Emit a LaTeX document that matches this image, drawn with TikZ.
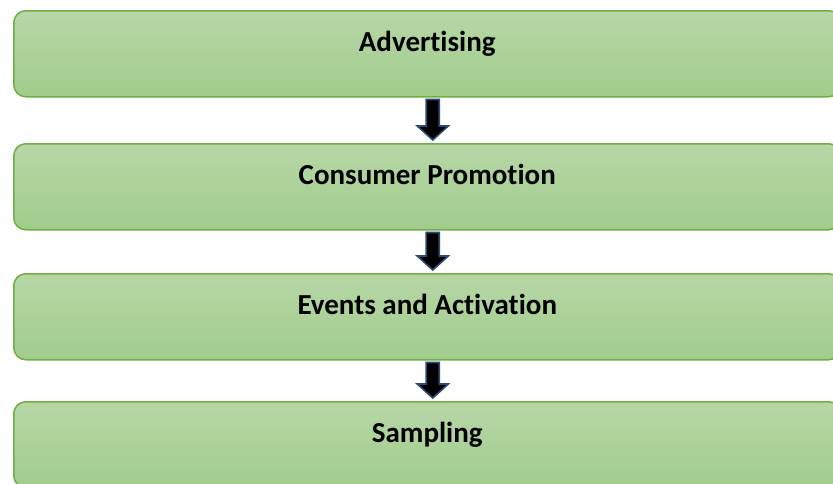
\documentclass[tikz,border=0pt]{standalone}
\usepackage{fontspec}
\setmainfont{Carlito}[Ligatures=NoCommon]
\usepackage{xcolor}
\usetikzlibrary{calc,positioning}

\definecolor{boxtop}{RGB}{183,215,167}
\definecolor{boxbot}{RGB}{160,204,139}
\definecolor{boxline}{RGB}{112,173,71}
\definecolor{arrowline}{RGB}{44,74,118}

\begin{document}
\begin{tikzpicture}[x=1pt,y=-1pt,
    stagebox/.style={draw=boxline, line width=1.5pt, rounded corners=12pt,
        top color=boxtop, bottom color=boxbot, anchor=north west,
        minimum width=827pt, inner sep=0pt, text height=41pt, text depth=45pt,
        font=\fontsize{29}{34}\selectfont\bfseries},
    arrowbox/.style={draw=arrowline, fill=black, line width=1.6pt, line join=miter}]
    \useasboundingbox (0,0) rectangle (833,483);
    \clip (0,0) rectangle (833,483);

    \foreach \name/\y/\txt in {adv/10/Advertising, cons/143/Consumer Promotion,
                               evt/273/Events and Activation, samp/401/Sampling} {
        \node[stagebox] (\name) at (13,\y) {\txt};
    }

    % block arrows between the stages
    \foreach \a/\b in {adv/cons, cons/evt, evt/samp} {
        \draw[arrowbox] let \p1=($(\a.south)+(5.5,2)$), \p2=($(\b.north)+(5.5,-3)$) in
            (\x1-6.5pt,\y1) -- (\x1+6.5pt,\y1) -- (\x1+6.5pt,\y2+14pt) -- (\x1+15.5pt,\y2+14pt)
            -- (\x1,\y2) -- (\x1-15.5pt,\y2+14pt) -- (\x1-6.5pt,\y2+14pt) -- cycle;
    }
\end{tikzpicture}
\end{document}
